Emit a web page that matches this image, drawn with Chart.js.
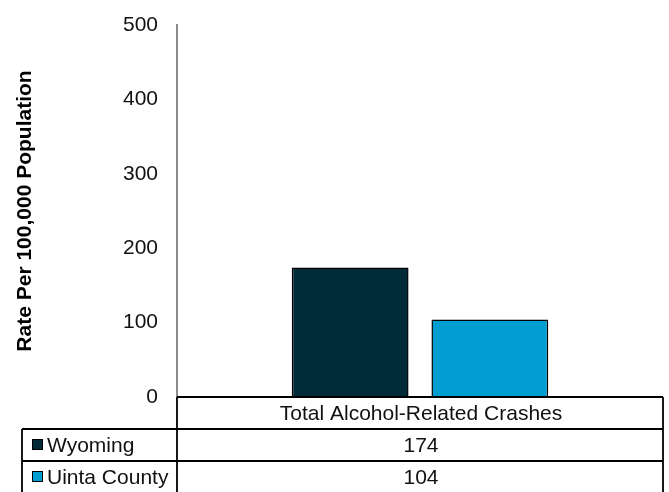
<!DOCTYPE html>
<html>
<head>
<meta charset="utf-8">
<script src="https://cdn.jsdelivr.net/npm/chart.js@4/dist/chart.umd.min.js"></script>
<style>
body { margin: 0; background: #fff; }
</style>
</head>
<body>
<canvas id="myChart" width="669" height="492"></canvas>
<script>
var categories = ['Total Alcohol-Related Crashes'];
var seriesNames = ['Wyoming', 'Uinta County'];
var wyoming = [174];
var uinta = [104];
var seriesColors = ['#022b3a', '#009dd1'];

var fontFamily = '"Liberation Sans", Arial, sans-serif';

// draws the Excel-style data table under the plot
var dataTable = {
    id: 'dataTable',
    afterDraw: function (chart) {
        var ctx = chart.ctx;
        var area = chart.chartArea;
        var xs = chart.scales.x;
        var rowH = 32;
        var top = area.bottom;
        var left = 22;
        var right = area.right;
        ctx.save();
        ctx.strokeStyle = '#000';
        ctx.lineWidth = 1.8;
        ctx.beginPath();
        ctx.moveTo(area.left, top);
        ctx.lineTo(right, top);
        ctx.moveTo(area.left, top);
        ctx.lineTo(area.left, top + rowH * 3);
        ctx.moveTo(right, top);
        ctx.lineTo(right, top + rowH * 3);
        for (var r = 1; r <= 2; r++) {
            var y = top + rowH * r;
            ctx.moveTo(left, y);
            ctx.lineTo(right, y);
        }
        ctx.moveTo(left, top + rowH);
        ctx.lineTo(left, top + rowH * 3);
        ctx.stroke();

        ctx.fillStyle = '#111';
        ctx.font = '21px ' + fontFamily;
        ctx.textAlign = 'center';
        ctx.textBaseline = 'middle';
        categories.forEach(function (c, i) {
            var cx = xs.getPixelForValue(i) + 1;
            ctx.fillText(c, cx, top + rowH / 2 + 1);
            chart.data.datasets.forEach(function (ds, j) {
                ctx.fillText(String(ds.data[i]), cx, top + rowH * (j + 1.5) + 1);
            });
        });
        ctx.textAlign = 'left';
        ctx.lineWidth = 1;
        chart.data.datasets.forEach(function (ds, j) {
            var cy = top + rowH * (j + 1.5);
            ctx.fillStyle = ds.backgroundColor;
            ctx.fillRect(32.5, cy - 5.5, 10, 10);
            ctx.strokeRect(32.5, cy - 5.5, 10, 10);
            ctx.fillStyle = '#111';
            ctx.fillText(ds.label, 47, cy + 1);
        });
        ctx.restore();
    }
};

var ctx = document.getElementById('myChart').getContext('2d');
var myChart = new Chart(ctx, {
    type: 'bar',
    data: {
        labels: categories,
        datasets: [{
            label: seriesNames[0],
            data: wyoming,
            backgroundColor: seriesColors[0],
            borderColor: '#000',
            borderWidth: 1.5
        }, {
            label: seriesNames[1],
            data: uinta,
            backgroundColor: seriesColors[1],
            borderColor: '#000',
            borderWidth: 1.5
        }]
    },
    options: {
        responsive: false,
        animation: false,
        layout: { padding: { top: 25, right: 6, bottom: 95, left: 0 } },
        categoryPercentage: 0.575,
        barPercentage: 0.836,
        plugins: {
            legend: { display: false },
            tooltip: { enabled: false }
        },
        scales: {
            x: {
                display: false
            },
            y: {
                min: 0,
                max: 500,
                ticks: {
                    stepSize: 100,
                    color: '#111',
                    padding: 19,
                    font: { family: fontFamily, size: 21 }
                },
                grid: { display: false, drawTicks: false },
                border: { color: '#8c8c8c', width: 2 },
                title: {
                    display: true,
                    text: 'Rate Per 100,000 Population',
                    color: '#000',
                    padding: { top: 13, bottom: 0 },
                    font: { family: fontFamily, size: 21, weight: 'bold' }
                },
                afterFit: function (scale) {
                    scale.width = 177;
                    scale.paddingTop = 0;
                    scale.paddingBottom = 0;
                }
            }
        }
    },
    plugins: [dataTable]
});
</script>
</body>
</html>
